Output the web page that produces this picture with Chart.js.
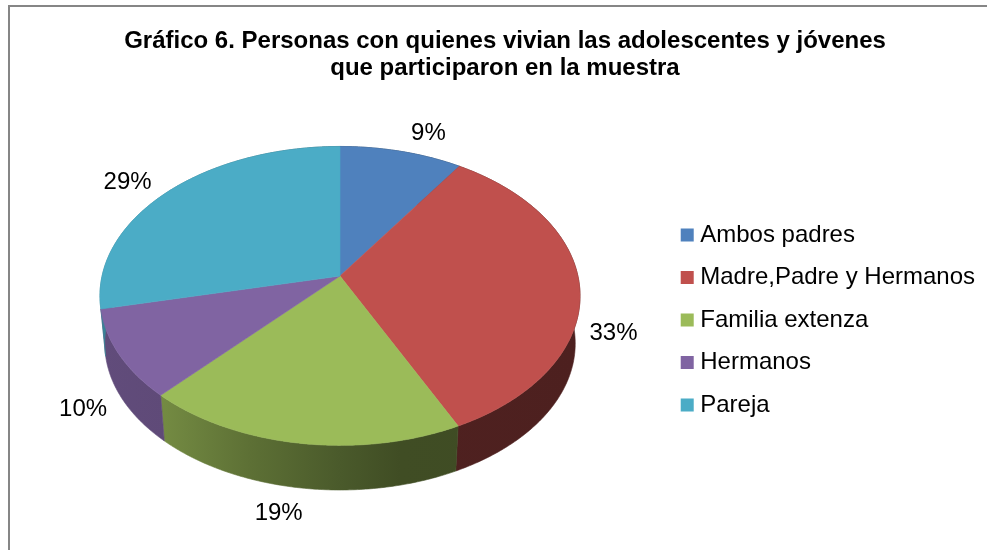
<!DOCTYPE html>
<html><head><meta charset="utf-8">
<style>html,body{margin:0;padding:0;background:#fff}canvas{display:block}</style>
<script src="https://cdn.jsdelivr.net/npm/chart.js@4/dist/chart.umd.js"></script>
</head><body>
<canvas id="c" width="987" height="550"></canvas>
<script>
const categories = ['Ambos padres','Madre,Padre y Hermanos','Familia extenza','Hermanos','Pareja'];
const shares = [9.4, 33.4, 19.1, 9.6, 28.5];
const colors = ['#4f81bd','#c0504d','#9bbb59','#8064a2','#4bacc6'];
const titleLines = ['Gráfico 6. Personas con quienes vivian las adolescentes y jóvenes','que participaron en la muestra'];
const labelNudges = [[27,-18],[34,47],[-21,70],[-36,55],[-41,-9]];

// Perspective of the tilted disc: maps unit-circle points onto the picture.
const view = {cx:340, cy:276, a:237.9, b:146.8, k:-0.1333, wallScale:0.98, wallDrop:48};
function project(u, v, bottom){
  const w = 1 + view.k * v;
  let x = view.a * u / w, y = view.b * v / w;
  if (bottom){ x *= view.wallScale; y = y * view.wallScale + view.wallDrop; }
  return [view.cx + x, view.cy + y];
}
function shade(hex, f){
  const n = parseInt(hex.slice(1),16);
  return `rgb(${Math.round((n>>16&255)*f)},${Math.round((n>>8&255)*f)},${Math.round((n&255)*f)})`;
}
const wallShade = [[100,.76],[165,.74],[250,.60],[340,.48],[400,.41],[580,.40]];

function traceArc(ctx, a0, a1, bottom, first){
  const n = Math.max(2, Math.ceil(Math.abs(a1-a0)/0.01));
  for (let i=0;i<=n;i++){
    const t = a0 + (a1-a0)*i/n;
    const p = project(Math.cos(t), Math.sin(t), bottom);
    if (i===0 && first) ctx.moveTo(p[0],p[1]); else ctx.lineTo(p[0],p[1]);
  }
}
// Slices are the library's arc elements, drawn through the perspective above.
Chart.ArcElement.prototype.draw = function(ctx){
  const c = this.options.backgroundColor;
  const apex = project(0,0,false);
  ctx.save();
  ctx.beginPath();
  ctx.moveTo(apex[0],apex[1]);
  traceArc(ctx,this.startAngle,this.endAngle,false,false);
  ctx.closePath();
  ctx.fillStyle = c; ctx.fill();
  ctx.strokeStyle = c; ctx.lineWidth = 0.6; ctx.stroke();
  ctx.restore();
};

const piePlugin = {
  id:'pie3d',
  beforeDraw(chart){
    const {ctx,width,height} = chart;
    ctx.save();
    ctx.fillStyle='#fff'; ctx.fillRect(0,0,width,height);
    ctx.fillStyle='#868686';
    ctx.fillRect(8,5,width-8,2);
    ctx.fillRect(8,5,2,height-5);
    ctx.restore();
  },
  beforeDatasetsDraw(chart){
    const {ctx} = chart;
    chart.getDatasetMeta(0).data.forEach((arc,i)=>{
      const g = ctx.createLinearGradient(100,0,580,0);
      wallShade.forEach(s=>g.addColorStop((s[0]-100)/480, shade(colors[i],s[1])));
      ctx.save();
      ctx.beginPath();
      traceArc(ctx,arc.startAngle,arc.endAngle,false,true);
      traceArc(ctx,arc.endAngle,arc.startAngle,true,false);
      ctx.closePath();
      ctx.fillStyle=g; ctx.fill();
      ctx.strokeStyle=g; ctx.lineWidth=0.6; ctx.stroke();
      ctx.restore();
    });
  },
  afterDatasetsDraw(chart){
    const {ctx} = chart;
    ctx.save();
    ctx.font='24px "Liberation Sans"';
    ctx.fillStyle='#000';
    ctx.textAlign='center'; ctx.textBaseline='middle';
    chart.getDatasetMeta(0).data.forEach((arc,i)=>{
      const mid=(arc.startAngle+arc.endAngle)/2;
      const p=project(Math.cos(mid),Math.sin(mid),false);
      ctx.fillText(Math.round(shares[i])+'%',p[0]+labelNudges[i][0],p[1]+labelNudges[i][1]);
    });
    ctx.restore();
  }
};

new Chart(document.getElementById('c'),{
  type:'pie',
  data:{labels:categories,datasets:[{data:shares,backgroundColor:colors,borderWidth:0}]},
  plugins:[piePlugin],
  options:{
    responsive:false,animation:false,
    events:[],
    layout:{padding:{left:25,right:2,top:28,bottom:0}},
    plugins:{
      tooltip:{enabled:false},
      title:{display:true,text:titleLines,color:'#000',
        font:{family:'"Liberation Sans"',size:24,weight:'bold',lineHeight:1.125},
        padding:{top:0,bottom:8}},
      legend:{position:'right',align:'center',fullSize:false,
        labels:{
          font:{family:'"Liberation Sans"',size:24},color:'#000',
          boxWidth:2,boxHeight:2,padding:18.5,
          generateLabels(chart){
            return categories.map((text,i)=>({text,fillStyle:colors[i],strokeStyle:colors[i],lineWidth:11,index:i,hidden:false}));
          }
        }
      }
    }
  }
});
</script>
</body></html>
